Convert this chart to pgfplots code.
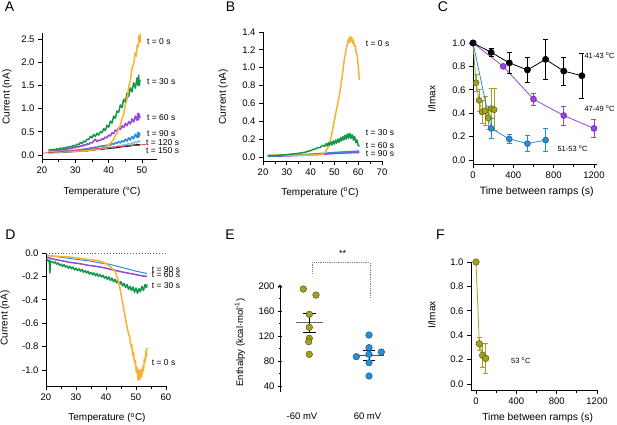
\documentclass[border=0pt]{standalone}
\usepackage{fontspec}
\setmainfont{Liberation Sans}
\usepackage{pgfplots}
\pgfplotsset{compat=1.18}
\definecolor{cOr}{HTML}{F8B133}
\definecolor{cGr}{HTML}{13964A}
\definecolor{cPu}{HTML}{9646DC}
\definecolor{cPuD}{HTML}{5E2296}
\definecolor{cBl}{HTML}{2A8ED2}
\definecolor{cBlD}{HTML}{145C92}
\definecolor{cLb}{HTML}{8DBFEA}
\definecolor{cOl}{HTML}{A3A11E}
\definecolor{cOlD}{HTML}{5E5C0C}
\definecolor{cRd}{HTML}{E5484A}
\pgfplotsset{
 igor/.style={
  scale only axis, anchor=south west, clip=false,
  axis lines=left, axis line style={-, line width=0.8pt},
  tick align=outside, major tick length=4pt, minor tick length=2.5pt,
  every tick/.append style={line width=0.8pt, black},
  tick label style={font=\fontsize{9.5}{10}\selectfont},
  label style={font=\fontsize{10}{12}\selectfont},
  /pgf/number format/assume math mode=true,
  /pgf/number format/1000 sep={},
  scaled ticks=false,
  yticklabel style={/pgf/number format/.cd, fixed, fixed zerofill, precision=1},
  xticklabel style={/pgf/number format/.cd, fixed, precision=0},
  xlabel style={anchor=center}, ylabel style={anchor=center},
  every axis plot/.append style={line join=round},
 },
 trace/.style={line width=1.5pt},
}
\tikzset{
 tl/.style={font=\fontsize{8.5}{9}\selectfont, anchor=west, inner sep=0pt},
 cl/.style={font=\fontsize{7.5}{8}\selectfont, anchor=west, inner sep=0pt},
 pl/.style={font=\fontsize{14}{14}\selectfont, inner sep=0pt},
}
\begin{document}
\begin{tikzpicture}

% ---------------- A ----------------
\begin{axis}[igor, at={(42pt,265pt)}, width=115pt, height=126pt,
  xmin=20, xmax=54.5, ymin=-0.086, ymax=2.63,
  xtick={20,30,40,50}, minor xtick={25,35,45},
  ytick={0,0.5,1,1.5,2,2.5},
  xlabel={Temperature (°C)}, ylabel={Current (nA)},
  xlabel style={at={(axis description cs:0.522,-0.262)}},
  ylabel style={at={(axis description cs:-0.304,0.492)}}]
\addplot[trace, black] coordinates {(22,0.05)(24,0.057)(26,0.06)(28,0.072)(30,0.078)(32,0.092)(34,0.098)(36,0.118)(38,0.128)(40,0.148)(42,0.158)(44,0.183)(46,0.197)(48,0.215)(49.4,0.22)};
\addplot[trace, cLb] coordinates {(22,0.05)(25,0.06)(28,0.075)(31,0.09)(34,0.11)(37,0.13)(40,0.16)(42,0.18)(44,0.21)(45,0.22)(46,0.25)(46.5,0.23)(47,0.27)(47.5,0.25)(48,0.29)(48.5,0.26)(49,0.31)(49.4,0.28)};
\addplot[trace, cBl] coordinates {(22,0.06)(23,0.065)(24,0.07)(25,0.075)(26,0.08)(27,0.085)(28,0.09)(29,0.095)(30,0.1)(31,0.11)(32,0.12)(33,0.13)(34,0.14)(35,0.16)(35.5,0.15)(36,0.17)(36.5,0.16)(37,0.19)(37.5,0.18)(38,0.2)(38.5,0.19)(39,0.21)(39.5,0.2)(40,0.23)(40.5,0.21)(41,0.25)(41.5,0.23)(42,0.27)(42.5,0.25)(43,0.29)(43.5,0.26)(44,0.31)(44.5,0.28)(45,0.34)(45.5,0.3)(46,0.37)(46.5,0.32)(47,0.4)(47.5,0.35)(48,0.45)(48.5,0.38)(48.8,0.49)(49,0.38)(49.2,0.47)(49.4,0.42)};
\addplot[trace, cPu] coordinates {(22,0.08)(22.5,0.09)(23,0.08)(24,0.095)(25,0.095)(26,0.115)(27,0.115)(28,0.14)(29,0.14)(29.5,0.165)(30,0.155)(30.5,0.18)(31,0.17)(31.5,0.2)(32,0.19)(32.5,0.22)(33,0.21)(33.5,0.24)(34,0.23)(34.5,0.27)(35,0.26)(35.5,0.3)(36,0.34)(36.5,0.29)(37,0.32)(37.5,0.31)(38,0.35)(38.5,0.34)(39,0.39)(39.5,0.37)(40,0.43)(40.5,0.41)(41,0.48)(41.5,0.46)(42,0.54)(42.5,0.51)(43,0.59)(43.5,0.55)(44,0.63)(44.5,0.59)(45,0.68)(45.5,0.63)(46,0.72)(46.5,0.67)(47,0.78)(47.5,0.71)(48,0.84)(48.5,0.75)(48.8,0.9)(49,0.76)(49.2,0.88)(49.4,0.8)};
\addplot[trace, cGr] coordinates {(22,0.1)(22.5,0.12)(23,0.1)(23.5,0.125)(24,0.11)(24.5,0.135)(25,0.12)(25.5,0.15)(26,0.13)(26.5,0.16)(27,0.14)(27.5,0.175)(28,0.155)(28.5,0.19)(29,0.17)(29.5,0.21)(30,0.19)(30.5,0.235)(31,0.22)(31.5,0.27)(32,0.25)(32.5,0.3)(33,0.28)(33.5,0.34)(34,0.33)(34.5,0.4)(35,0.37)(35.5,0.44)(36,0.4)(36.5,0.47)(37,0.43)(37.5,0.5)(38,0.48)(38.5,0.57)(39,0.53)(39.5,0.64)(40,0.6)(40.5,0.73)(41,0.69)(41.5,0.84)(42,0.79)(42.5,0.95)(43,0.92)(43.5,1.08)(44,1.02)(44.5,1.2)(45,1.14)(45.5,1.33)(46,1.26)(46.5,1.45)(47,1.36)(47.5,1.56)(48,1.44)(48.5,1.66)(48.8,1.5)(49,1.72)(49.2,1.5)(49.4,1.62)};
\addplot[trace, cOr] coordinates {(22,0.07)(22.5,0.08)(23,0.065)(23.5,0.075)(24,0.07)(25,0.075)(26,0.068)(27,0.08)(28,0.075)(29,0.085)(30,0.08)(31,0.092)(32,0.087)(33,0.1)(34,0.097)(35,0.113)(36,0.118)(37,0.135)(37.5,0.13)(38,0.15)(38.5,0.145)(39,0.175)(39.5,0.19)(40,0.225)(40.5,0.24)(41,0.3)(41.5,0.33)(42,0.42)(42.5,0.47)(43,0.58)(43.5,0.64)(44,0.79)(44.5,0.88)(45,1.08)(45.5,1.2)(46,1.46)(46.5,1.6)(47,1.86)(47.5,1.97)(48,2.21)(48.3,2.13)(48.6,2.38)(48.9,2.33)(49.1,2.56)(49.3,2.45)(49.4,2.6)(49.5,2.42)};
\addplot[line width=0.8pt, cRd] coordinates {(20.2,0.04)(51.2,0.23)};
\end{axis}
\node[pl] at (9.5pt,417pt) {A};
\node[tl] at (147pt,382pt) {t = 0 s};
\node[tl] at (147pt,342.3pt) {t = 30 s};
\node[tl] at (147pt,306.3pt) {t = 60 s};
\node[tl] at (147pt,290.7pt) {t = 90 s};
\node[tl] at (146pt,281.3pt) {t = 120 s};
\node[tl] at (146pt,273.3pt) {t = 150 s};

% ---------------- B ----------------
\begin{axis}[igor, at={(263pt,263pt)}, width=119pt, height=129pt,
  xmin=20, xmax=70, ymin=-0.045, ymax=1.4,
  xtick={20,30,40,50,60,70}, minor xtick={25,35,45,55,65},
  ytick={0,0.2,0.4,0.6,0.8,1,1.2,1.4},
  xlabel={Temperature (\textsuperscript{o}C)}, ylabel={Current (nA)},
  xlabel style={at={(axis description cs:0.479,-0.243)}},
  ylabel style={at={(axis description cs:-0.334,0.498)}}]
\addplot[trace, cPu] coordinates {(22,0.008)(26,0.01)(30,0.012)(34,0.016)(38,0.02)(42,0.026)(46,0.032)(50,0.038)(54,0.044)(58,0.048)(60.5,0.05)};
\addplot[trace, cBl] coordinates {(22,0.012)(23,0.02)(23.5,0.01)(26,0.014)(30,0.018)(34,0.023)(38,0.028)(42,0.035)(46,0.042)(50,0.05)(54,0.057)(58,0.063)(60.5,0.066)};
\addplot[trace, cOr] coordinates {(22,0.02)(30,0.02)(38,0.02)(43,0.025)(45,0.03)(46,0.05)(47,0.09)(48,0.15)(49,0.27)(50,0.41)(51,0.55)(52,0.68)(53,0.85)(53.5,0.95)(54,1.06)(54.5,1.14)(55,1.22)(55.5,1.27)(56,1.33)(56.3,1.28)(56.6,1.35)(57,1.3)(57.3,1.34)(57.7,1.27)(58,1.31)(58.4,1.24)(58.8,1.25)(59.2,1.16)(59.6,1.14)(60,1.02)(60.3,0.93)(60.5,0.86)};
\addplot[trace, cGr] coordinates {(22,0.01)(24,0.015)(26,0.018)(28,0.022)(30,0.027)(32,0.032)(34,0.038)(36,0.045)(38,0.055)(39,0.065)(40,0.07)(41,0.085)(42,0.09)(43,0.105)(44,0.105)(45,0.13)(46,0.12)(46.5,0.15)(47,0.125)(47.5,0.16)(48,0.13)(48.5,0.17)(49,0.135)(49.5,0.18)(50,0.145)(50.5,0.19)(51,0.155)(51.5,0.2)(52,0.165)(52.5,0.215)(53,0.18)(53.5,0.23)(54,0.19)(54.5,0.245)(55,0.2)(55.5,0.26)(56,0.21)(56.5,0.265)(57,0.21)(57.5,0.25)(58,0.19)(58.5,0.23)(59,0.16)(59.5,0.19)(60,0.13)(60.5,0.12)};
\end{axis}
\node[pl] at (230.5pt,417pt) {B};
\node[tl] at (365.7pt,380pt) {t = 0 s};
\node[tl] at (365.7pt,291.7pt) {t = 30 s};
\node[tl] at (365.7pt,278.3pt) {t = 60 s};
\node[tl] at (365.7pt,270.7pt) {t = 90 s};

% ---------------- C ----------------
\begin{axis}[igor, at={(473pt,260pt)}, width=124pt, height=122.3pt,
  xmin=0, xmax=1230, ymin=-0.034, ymax=1.011,
  xtick={0,400,800,1200}, minor xtick={200,600,1000},
  ytick={0,0.2,0.4,0.6,0.8,1},
  xlabel={Time between ramps (s)}, ylabel={I/Imax},
  xlabel style={at={(axis description cs:0.514,-0.231)}, font=\fontsize{10.6}{12}\selectfont},
  ylabel style={at={(axis description cs:-0.333,0.531)}},
  error bars/error bar style={line width=0.7pt},
  error bars/error mark options={rotate=90, mark size=2.5pt, line width=0.7pt}]
\addplot[cOl, line width=0.8pt, mark=*, mark size=3pt, mark options={fill=cOl, draw=cOlD, line width=0.5pt},
  error bars/.cd, y dir=both, y explicit] coordinates {
  (0,1.0) +- (0,0) (30,0.66) +- (0,0.07) (60,0.51) +- (0,0.09) (90,0.41) +- (0,0.1)
  (120,0.42) +- (0,0.12) (150,0.36) +- (0,0.1) (180,0.44) +- (0,0.17) (210,0.43) +- (0,0.18)};
\addplot[cBl, line width=0.8pt, mark=*, mark size=3pt, mark options={fill=cBl, draw=cBlD, line width=0.5pt},
  error bars/.cd, y dir=both, y explicit] coordinates {
  (0,1.0) +- (0,0) (180,0.27) +- (0,0.085) (360,0.18) +- (0,0.04) (540,0.14) +- (0,0.07) (720,0.17) +- (0,0.10)};
\addplot[cPu, line width=0.8pt, mark=*, mark size=3pt, mark options={fill=cPu, draw=cPuD, line width=0.5pt},
  error bars/.cd, y dir=both, y explicit] coordinates {
  (0,1.0) +- (0,0) (300,0.80) +- (0,0.01) (600,0.52) +- (0,0.05) (900,0.38) +- (0,0.08) (1200,0.27) +- (0,0.08)};
\addplot[black, line width=0.8pt, mark=*, mark size=3pt, mark options={fill=black, draw=black},
  error bars/.cd, y dir=both, y explicit] coordinates {
  (0,1.0) +- (0,0) (180,0.92) +- (0,0.03) (360,0.83) +- (0,0.09) (540,0.77) +- (0,0.11)
  (720,0.86) +- (0,0.17) (900,0.76) +- (0,0.12) (1080,0.72) +- (0,0.19)};
\end{axis}
\node[pl] at (443pt,417pt) {C};
\node[cl] at (584.3pt,368.3pt) {41-43 \textsuperscript{o}C};
\node[cl] at (584.3pt,315pt) {47-49 \textsuperscript{o}C};
\node[cl] at (557.3pt,275.7pt) {51-53 \textsuperscript{o}C};

% ---------------- D ----------------
\begin{axis}[igor, at={(46pt,38pt)}, width=120pt, height=133pt,
  xmin=20, xmax=60, ymin=-1.137, ymax=0,
  xtick={20,30,40,50,60}, minor xtick={25,35,45,55},
  ytick={-1,-0.8,-0.6,-0.4,-0.2,0},
  xlabel={Temperature (\textsuperscript{o}C)}, ylabel={Current (nA)},
  xlabel style={at={(axis description cs:0.508,-0.243)}},
  ylabel style={at={(axis description cs:-0.342,0.511)}}]
\addplot[dotted, line width=0.9pt, black!65] coordinates {(20,0)(60,0)};
\addplot[trace, cGr] coordinates {(20.2,-0.05)(20.8,-0.07)(21.1,-0.06)(21.3,-0.17)(21.5,-0.07)(22,-0.075)(22.5,-0.085)(23,-0.075)(23.5,-0.095)(24,-0.085)(24.5,-0.105)(25,-0.095)(25.5,-0.115)(26,-0.1)(26.5,-0.12)(27,-0.11)(27.5,-0.13)(28,-0.115)(28.5,-0.135)(29,-0.12)(29.5,-0.145)(30,-0.13)(30.5,-0.15)(31,-0.135)(31.5,-0.155)(32,-0.14)(32.5,-0.165)(33,-0.15)(33.5,-0.17)(34,-0.155)(34.5,-0.18)(35,-0.165)(35.5,-0.185)(36,-0.17)(36.5,-0.195)(37,-0.175)(37.5,-0.2)(38,-0.185)(38.5,-0.205)(39,-0.19)(39.5,-0.215)(40,-0.2)(40.5,-0.225)(41,-0.205)(41.5,-0.235)(42,-0.215)(42.5,-0.245)(43,-0.225)(43.5,-0.255)(44,-0.235)(44.5,-0.27)(45,-0.245)(45.5,-0.28)(46,-0.26)(46.5,-0.295)(47,-0.27)(47.5,-0.31)(48,-0.285)(48.5,-0.32)(49,-0.29)(49.5,-0.335)(50,-0.3)(50.5,-0.345)(51,-0.305)(51.5,-0.33)(52,-0.285)(52.5,-0.32)(53,-0.27)(53.5,-0.295)(53.7,-0.27)};
\addplot[trace, cPu] coordinates {(20.3,-0.035)(22,-0.05)(25,-0.065)(28,-0.08)(31,-0.09)(34,-0.105)(37,-0.115)(40,-0.13)(42.4,-0.145)(45,-0.16)(48,-0.175)(50,-0.185)(52,-0.195)(53.6,-0.2)};
\addplot[line width=1pt, cBl] coordinates {(20.3,-0.02)(23,-0.03)(26,-0.04)(29,-0.05)(32,-0.06)(35,-0.07)(38,-0.085)(41,-0.095)(44,-0.115)(47,-0.135)(50,-0.155)(53.6,-0.175)};
\addplot[trace, cOr] coordinates {(20.3,-0.02)(22,-0.025)(25,-0.03)(28,-0.035)(31,-0.045)(34,-0.055)(36,-0.06)(38,-0.07)(39,-0.08)(40,-0.09)(41,-0.11)(42,-0.13)(43,-0.16)(43.5,-0.19)(44,-0.23)(44.5,-0.28)(45,-0.35)(45.5,-0.42)(46,-0.49)(46.5,-0.56)(47,-0.63)(47.5,-0.69)(48,-0.73)(48.3,-0.8)(48.6,-0.78)(48.9,-0.88)(49.2,-0.85)(49.5,-0.94)(49.8,-0.92)(50.1,-1.02)(50.4,-0.98)(50.7,-1.09)(51,-1.0)(51.3,-1.08)(51.6,-1.0)(51.9,-1.06)(52.2,-0.97)(52.5,-1.01)(52.8,-0.9)(53.1,-0.93)(53.3,-0.84)(53.5,-0.88)(53.6,-0.81)};
\end{axis}
\node[pl] at (10.5pt,189pt) {D};
\node[tl] at (151.7pt,154.7pt) {t = 90 s};
\node[tl] at (151.7pt,149.7pt) {t = 60 s};
\node[tl] at (151.7pt,138.7pt) {t = 30 s};
\node[tl] at (151.7pt,61.7pt) {t = 0 s};

% ---------------- E ----------------
\begin{axis}[igor, at={(280pt,31.75pt)}, width=110pt, height=108.1pt,
  axis x line=none, axis y line=left,
  xmin=0, xmax=110, ymin=30, ymax=203,
  ytick={40,80,120,160,200}, minor ytick={60,100,140,180},
  yticklabel style={/pgf/number format/.cd, fixed, precision=0},
  ylabel={Enthalpy (kcal·mol\textsuperscript{-1})},
  ylabel style={at={(axis description cs:-0.364,0.46)}, font=\fontsize{9.5}{11}\selectfont}]
\addplot[densely dotted, line width=0.8pt, black!50] coordinates {(32.3,220.3)(32.3,237.3)(90,237.3)(90,181.3)};
\addplot[only marks, mark=*, mark size=3.3pt, mark options={fill=cOl, draw=cOlD, line width=0.5pt}] coordinates {
  (23.3,195.2)(36,185.6)(29.3,154.7)(29.3,133.9)(29.3,116.3)(28.7,110.9)(29.3,90.7)};
\addplot[only marks, mark=*, mark size=3.3pt, mark options={fill=cBl, draw=cBlD, line width=0.5pt}] coordinates {
  (89,121.6)(89,101.3)(76.3,87)(89,90.7)(89,77.3)(101.3,94.4)(89,56)};
\addplot[black!60, line width=1.4pt] coordinates {(15.7,141.3)(43.3,141.3)};
\addplot[black!70, line width=1.4pt] coordinates {(77,89)(104,89)};
\addplot[draw=none, mark=none, error bars/.cd, y dir=both, y explicit,
  error bar style={black, line width=0.8pt},
  error mark options={rotate=90, mark size=6.3pt, black, line width=0.8pt}] coordinates {
  (29.3,141.3) +- (0,15) (89,89.3) +- (0,7.7)};
\node[font=\fontsize{9}{9}\selectfont, inner sep=0pt] at (axis cs:62.7,252.8) {**};
\node[font=\fontsize{9.5}{10}\selectfont, inner sep=0pt] at (axis cs:22,-8) {-60 mV};
\node[font=\fontsize{9.5}{10}\selectfont, inner sep=0pt] at (axis cs:87.5,-8) {60 mV};
\end{axis}
\node[pl] at (230pt,189pt) {E};

% ---------------- F ----------------
\begin{axis}[igor, at={(471pt,34pt)}, width=126pt, height=128pt,
  xmin=-49.6, xmax=1200, ymin=-0.049, ymax=1.0,
  xtick={0,400,800,1200}, minor xtick={200,600,1000},
  ytick={0,0.2,0.4,0.6,0.8,1},
  xlabel={Time between ramps (s)}, ylabel={I/Imax},
  xlabel style={at={(axis description cs:0.529,-0.221)}, font=\fontsize{10.3}{12}\selectfont},
  ylabel style={at={(axis description cs:-0.312,0.586)}},
  error bars/error bar style={line width=0.7pt},
  error bars/error mark options={rotate=90, mark size=2.5pt, line width=0.7pt}]
\addplot[cOl, line width=0.8pt, mark=*, mark size=3.3pt, mark options={fill=cOl, draw=cOlD, line width=0.5pt},
  error bars/.cd, y dir=both, y explicit] coordinates {
  (0,1.0) +- (0,0) (33,0.33) +- (0,0.055) (66,0.235) +- (0,0.095) (96,0.21) +- (0,0.12)};
\end{axis}
\node[pl] at (440.5pt,189pt) {F};
\node[cl] at (511pt,63.3pt) {53 \textsuperscript{o}C};

\pgfresetboundingbox
\path[use as bounding box] (0pt,0pt) rectangle (617pt,424pt);
\end{tikzpicture}
\end{document}
